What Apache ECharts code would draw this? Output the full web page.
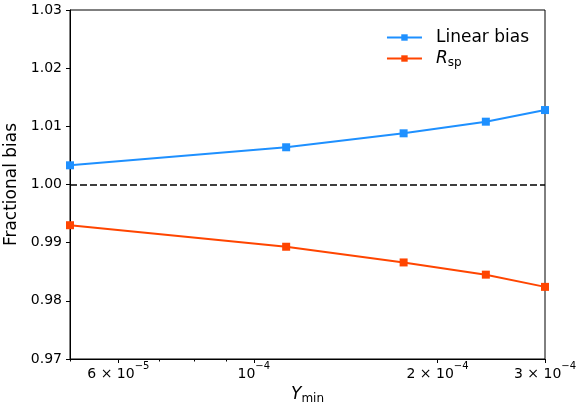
<!DOCTYPE html>
<html><head><meta charset="utf-8">
<script src="https://cdn.jsdelivr.net/npm/echarts@6/dist/echarts.min.js"></script>
<style>html,body{margin:0;padding:0;background:#fff}#c{width:577px;height:404px}</style>
</head><body><div id="c"></div>
<script>
const yminValues = [5.0e-5, 1.13e-4, 1.76e-4, 2.40e-4, 3.0e-4];
const linearBias = [1.0033, 1.0064, 1.0088, 1.0108, 1.0128];
const rsp = [0.9930, 0.9893, 0.9866, 0.9845, 0.9824];
const xMajorTicks = [6e-5, 1e-4, 2e-4, 3e-4];
const xMajorBase = ['6 × 10', '10', '2 × 10', '3 × 10'];
const xMajorExp = ['−5', '−4', '−4', '−4'];
const xMinorTicks = [5e-5, 7e-5, 8e-5, 9e-5];
const yTicks = [0.97, 0.98, 0.99, 1.00, 1.01, 1.02, 1.03];

const L = Math.log10;
const xMin = L(5e-5), xMax = L(3e-4);
const font = 'DejaVu Sans';
const supRich = {
  base: {fontFamily: font, fontSize: 14, color: '#000', lineHeight: 20, verticalAlign: 'bottom'},
  sup: {fontFamily: font, fontSize: 10, color: '#000', verticalAlign: 'top', lineHeight: 20}
};
const chart = echarts.init(document.getElementById('c'));
chart.setOption({
  animation: false,
  backgroundColor: '#fff',
  grid: {left: 70, right: 32, top: 10, bottom: 45, outerBoundsMode: 'none', containLabel: false,
    show: true, borderColor: '#000', borderWidth: 1},
  legend: {
    right: 43, top: 24, orient: 'vertical', itemWidth: 35, itemHeight: 8, itemGap: 4,
    textStyle: {fontFamily: font, fontSize: 17, color: '#000', padding: [0, 0, 0, 9],
      rich: {it: {fontFamily: font, fontSize: 17, fontStyle: 'italic', color: '#000'},
             sub: {fontFamily: font, fontSize: 12, color: '#000', padding: [8, 0, 0, 0]}}},
    formatter: n => n === 'Rsp' ? '{it|R}{sub|sp}' : n,
    data: ['Linear bias', 'Rsp']
  },
  xAxis: [{
    type: 'value', min: xMin, max: xMax,
    name: '{it|Y}{sub|min}', nameLocation: 'middle', nameGap: 18,
    nameTextStyle: {rich: {it: {fontFamily: font, fontSize: 17, fontStyle: 'italic', color: '#000'},
      sub: {fontFamily: font, fontSize: 12, color: '#000', padding: [9, 0, 0, 0]}}},
    axisLine: {lineStyle: {color: '#000', width: 1}},
    splitLine: {show: false},
    axisTick: {customValues: xMajorTicks.map(L), length: 4, lineStyle: {color: '#000'}},
    axisLabel: {customValues: xMajorTicks.map(L), margin: 2, rich: supRich,
      formatter: v => { let i = 0, d = 1e9; xMajorTicks.forEach((t, k) => { const e = Math.abs(L(t) - v); if (e < d) { d = e; i = k; } });
        return '{base|' + xMajorBase[i] + '}{sup|' + xMajorExp[i] + '}'; }}
  }, {
    type: 'value', min: xMin, max: xMax, position: 'bottom', gridIndex: 0,
    axisLine: {show: false}, splitLine: {show: false}, axisLabel: {show: false},
    axisTick: {customValues: xMinorTicks.map(L), length: 2.5, lineStyle: {color: '#000'}}
  }],
  yAxis: {
    type: 'value', min: 0.97, max: 1.03, interval: 0.01,
    name: 'Fractional bias', nameLocation: 'middle', nameGap: 45,
    nameTextStyle: {fontFamily: font, fontSize: 17, color: '#000'},
    axisLine: {show: true, lineStyle: {color: '#000', width: 1}},
    splitLine: {show: false},
    axisTick: {length: 4, lineStyle: {color: '#000'}},
    axisLabel: {fontFamily: font, fontSize: 14, color: '#000', margin: 8,
      formatter: v => yTicks.reduce((a, t) => Math.abs(t - v) < Math.abs(a - v) ? t : a).toFixed(2)}
  },
  series: [{
    name: 'Linear bias', type: 'line', symbol: 'rect', symbolSize: 8,
    color: '#1E90FF', lineStyle: {width: 2, color: '#1E90FF'}, itemStyle: {color: '#1E90FF'},
    data: yminValues.map((x, i) => [L(x), linearBias[i]]),
    markLine: {silent: true, symbol: 'none', label: {show: false},
      lineStyle: {color: '#000', type: [7, 3], width: 1.6}, data: [{yAxis: 1.0}]}
  }, {
    name: 'Rsp', type: 'line', symbol: 'rect', symbolSize: 8,
    color: '#FF4500', lineStyle: {width: 2, color: '#FF4500'}, itemStyle: {color: '#FF4500'},
    data: yminValues.map((x, i) => [L(x), rsp[i]])
  }]
});
</script></body></html>
